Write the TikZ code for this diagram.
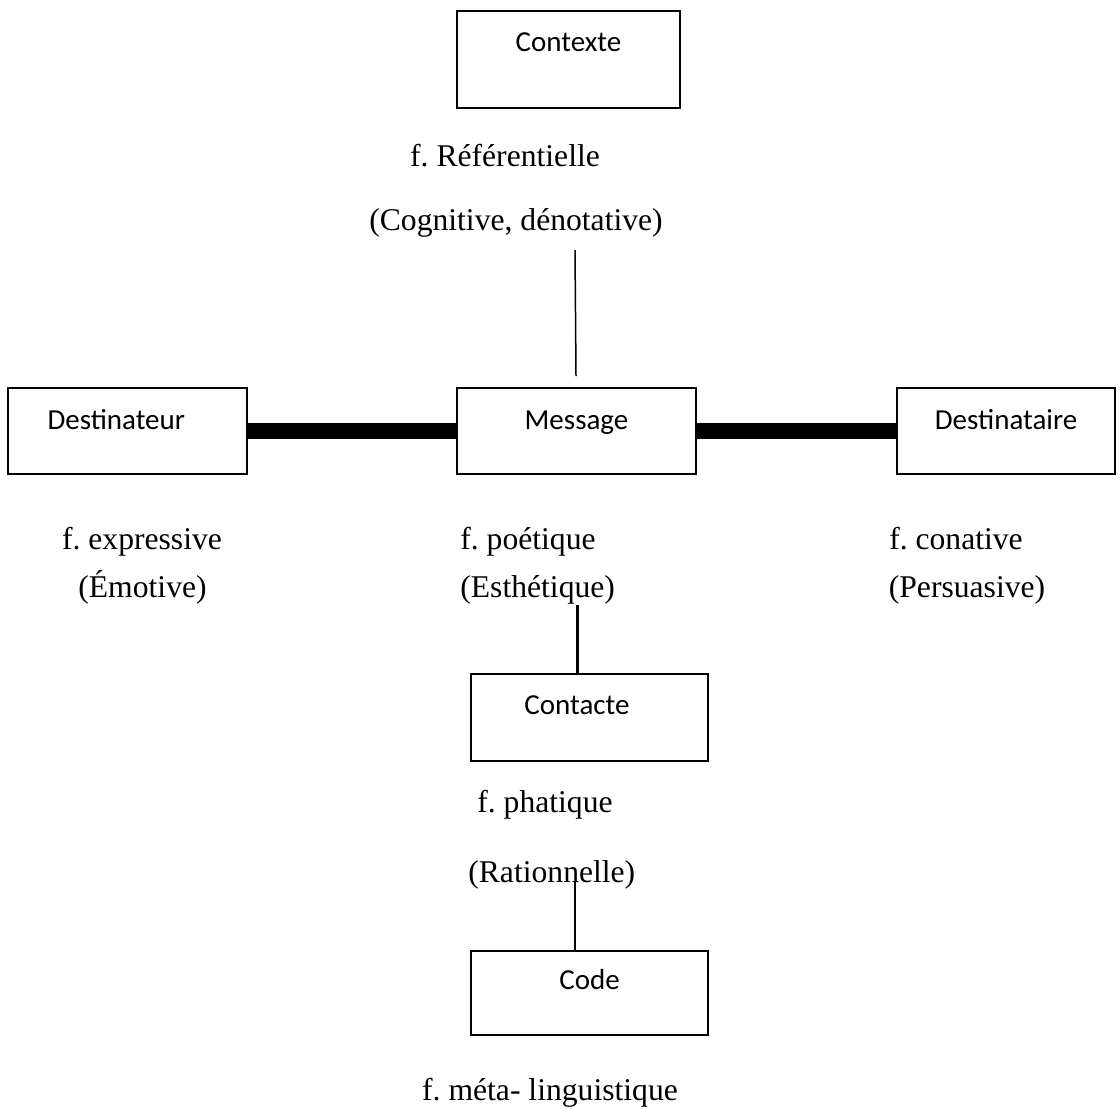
\documentclass[tikz,border=0pt]{standalone}
\usepackage{fontspec}
\setmainfont{Liberation Serif}
\newfontfamily\calibri{Carlito}
\usepackage{tikz}
\frenchspacing

\begin{document}
\begin{tikzpicture}[
      fbox/.style={draw, line width=1.1pt, inner sep=0pt, anchor=north,
        font=\calibri\fontsize{16.5}{19}\selectfont, text height=0.84cm, text depth=0.88cm},
      flbl/.style={anchor=base, inner sep=0pt, font=\fontsize{18}{21}\selectfont},
      thinln/.style={line width=0.85pt},
      boldln/.style={line width=9pt}]
      \useasboundingbox (0,0) rectangle (22.38,-22.16);

      \node[fbox, minimum width=4.46cm, text height=0.82cm, text depth=1.12cm] (ctx) at (11.37,-0.2) {Contexte};
      \node[fbox, minimum width=4.78cm] (dtr) at (2.55,-7.74) {\hspace*{-0.45cm}Destinateur};
      \node[fbox, minimum width=4.78cm] (msg) at (11.53,-7.74) {Message};
      \node[fbox, minimum width=4.36cm] (dta) at (20.12,-7.74) {Destinataire};
      \node[fbox, minimum width=4.74cm, text height=0.82cm, text depth=0.92cm] (cont) at (11.79,-13.46) {\hspace*{-0.5cm}Contacte};
      \node[fbox, minimum width=4.74cm, text height=0.78cm, text depth=0.90cm] (code) at (11.79,-19.0) {Code};

      \node[flbl] (fref) at (10.10,-3.32) {f. Référentielle};
      \node[flbl] (fcog) at (10.32,-4.60) {(Cognitive, dénotative)};
      \node[flbl] (fexp) at (2.84,-10.98) {f. expressive};
      \node[flbl] (femo) at (2.85,-11.94) {(Émotive)};
      \node[flbl, anchor=base west] (fpoe) at (9.20,-10.98) {f. poétique};
      \node[flbl, anchor=base west] (fest) at (9.20,-11.94) {(Esthétique)};
      \node[flbl] (fcon) at (19.12,-10.98) {f. conative};
      \node[flbl] (fper) at (19.34,-11.94) {(Persuasive)};
      \node[flbl, anchor=base west] (fpha) at (9.54,-16.24) {f. phatique};
      \node[flbl, anchor=base west] (frat) at (9.36,-17.64) {(Rationnelle)};
      \node[flbl] (fmet) at (11.00,-22.00) {f. méta- linguistique};

      \coordinate (r1) at (11.50,-5.00);
      \coordinate (r2) at (11.52,-7.52);
      \draw[thinln] (r1) -- (r2);
      \draw[boldln] (dtr.east) -- (msg.west);
      \draw[boldln] (msg.east) -- (dta.west);
      \coordinate (e1) at (11.54,-12.10);
      \draw[line width=1.7pt] (e1) -- (e1 |- cont.north);
      \coordinate (c1) at (11.50,-17.64);
      \draw[thinln] (c1) -- (c1 |- code.north);
\end{tikzpicture}
\end{document}
